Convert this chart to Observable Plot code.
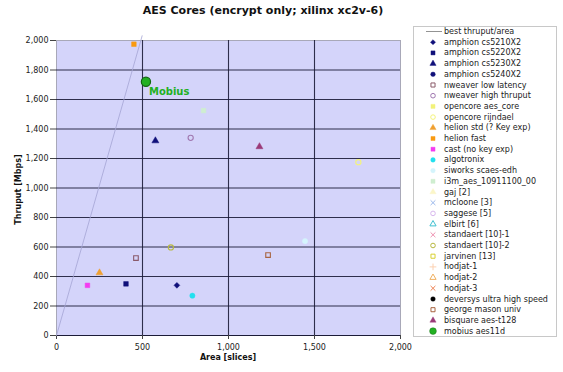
<!DOCTYPE html>
<html><head><meta charset="utf-8">
<script src="https://cdn.jsdelivr.net/npm/d3@7"></script>
<script src="https://cdn.jsdelivr.net/npm/@observablehq/plot@0.6"></script>
<style>
body{margin:0;background:#fff;font-family:"DejaVu Sans",Verdana,sans-serif;}
#wrap{position:relative;width:563px;height:372px;overflow:hidden;}
#chart{position:absolute;left:0;top:0;}
.lbl{position:absolute;font-weight:bold;color:#111;white-space:nowrap;}
#legend{position:absolute;left:413px;top:26px;width:144px;height:311px;border:1px solid #c8c8c8;box-sizing:border-box;background:#fff;}
</style></head>
<body><div id="wrap">
<div id="chart"></div>
<div class="lbl" id="title" style="left:0;width:526px;text-align:center;top:4px;font-size:11px;">AES Cores (encrypt only; xilinx xc2v-6)</div>
<div class="lbl" style="left:56px;width:344px;text-align:center;top:353px;font-size:8px;">Area [slices]</div>
<div class="lbl" style="left:-32px;width:100px;text-align:center;top:185px;font-size:8px;transform:rotate(-90deg);">Thruput [Mbps]</div>
<svg id="legend"></svg>
</div>
<script>
// ---- data ----
const lineName = "best thruput/area";
const lineAreas = [0, 498];
const lineThruputs = [0, 2032];

const names = ["amphion cs5210X2","amphion cs5220X2","amphion cs5230X2","amphion cs5240X2",
  "nweaver low latency","nweaver high thruput","opencore aes_core","opencore rijndael",
  "helion std (? Key exp)","helion fast","cast (no key exp)","algotronix","siworks scaes-edh",
  "i3m_aes_10911100_00","gaj [2]","mcloone [3]","saggese [5]","elbirt [6]","standaert [10]-1",
  "standaert [10]-2","jarvinen [13]","hodjat-1","hodjat-2","hodjat-3","deversys ultra high speed",
  "george mason univ","bisquare aes-t128","mobius aes11d"];
const areas =     [700, 404, 575, null, 462, 780, null, 1755, 250, 450, 180, 790, 1445, 855, null, null, null, null, null, 665, null, null, null, null, null, 1230, 1180, 520];
const thruputs =  [340, 350, 1320, null, 525, 1340, null, 1175, 425, 1975, 340, 270, 640, 1525, null, null, null, null, null, 597, null, null, null, null, null, 545, 1280, 1720];
const colors = ["#10107a","#10107a","#10107a","#10107a","#8a5a6a","#a078b0","#f2f27a","#f4f47a",
  "#f0a030","#f99a10","#f43cf0","#22e0ee","#d4f4fc","#cfeed0","#fbf6c8","#9ab8ec","#d8b8ee","#40c0d0",
  "#ee90b0","#b8b840","#d8d030","#fcd0b0","#f0b060","#ee8050","#000000","#a86440","#9a3a78","#22b022"];
const symbols = ["diamond2","square","triangle","circle","square","circle","square","circle",
  "triangle","square","square","circle","circle","square","triangle","times","circle","triangle",
  "times","circle","square","plus","triangle","times","circle","square","triangle","circle"];
const filled = [1,1,1,1,0,0,1,0,1,1,1,1,1,1,1,0,0,0,0,0,0,0,0,0,1,0,1,1];
const highlightName = "Mobius";

const xTicks = [0, 500, 1000, 1500, 2000];
const yTicks = [0, 200, 400, 600, 800, 1000, 1200, 1400, 1600, 1800, 2000];

// ---- chart ----
const pts = names.map((n, i) => ({name: n, area: areas[i], thru: thruputs[i], color: colors[i], sym: symbols[i], filled: filled[i]}))
  .filter(d => d.area != null);
const lineData = lineAreas.map((a, i) => ({area: a, thru: lineThruputs[i]}));
const fmt = d3.format(",");

const dotMarks = pts.map(d => {
  const big = d.name.startsWith("mobius");
  return Plot.dot([d], {x: "area", y: "thru", symbol: d.sym,
    r: big ? 4.6 : 2.6,
    fill: d.filled ? d.color : "none",
    stroke: big ? "#116611" : d.color,
    strokeWidth: big ? 1.2 : (d.filled ? 0.5 : 1.1)});
});
const mob = pts.filter(d => d.name.startsWith("mobius"));

const plot = Plot.plot({
  width: 563, height: 372,
  marginLeft: 56, marginRight: 163, marginTop: 40, marginBottom: 37,
  style: {fontFamily: "DejaVu Sans, Verdana, sans-serif", fontSize: "8px", color: "#222", background: "transparent"},
  x: {domain: [0, 2000], label: null},
  y: {domain: [0, 2000], label: null},
  marks: [
    Plot.frame({fill: "#d4d4fa", stroke: "#a8a8b8"}),
    Plot.gridX(xTicks.slice(1, -1), {stroke: "#1c1c38", strokeOpacity: 0.9, strokeWidth: 1.1}),
    Plot.gridY(yTicks.slice(1, -1), {stroke: "#1c1c38", strokeOpacity: 0.9, strokeWidth: 1.1}),
    Plot.ruleY([0], {stroke: "#1c1c38", strokeWidth: 1.1}),
    Plot.axisX({ticks: xTicks, tickFormat: fmt, tickSize: 4, tickPadding: 5, stroke: "#444"}),
    Plot.axisY({ticks: yTicks, tickFormat: fmt, tickSize: 6, tickPadding: 2, stroke: "#444"}),
    Plot.line(lineData, {x: "area", y: "thru", stroke: "#a4a4d4", strokeWidth: 0.8}),
    ...dotMarks,
    Plot.text(mob, {x: "area", y: "thru", text: () => highlightName, dx: 3, dy: 10, textAnchor: "start",
      fill: "#22b022", fontWeight: "bold", fontSize: 10})
  ]
});
document.getElementById("chart").appendChild(plot);

// ---- legend ----
const lg = d3.select("#legend");
const rowY = i => 4.5 + i * 10.7;
const symMap = {circle: d3.symbolCircle, square: d3.symbolSquare, triangle: d3.symbolTriangle,
  diamond2: d3.symbolDiamond2, times: d3.symbolTimes, plus: d3.symbolPlus};
lg.append("line").attr("x1", 12).attr("x2", 28).attr("y1", rowY(0)).attr("y2", rowY(0))
  .attr("stroke", "#777").attr("stroke-width", 0.8);
lg.append("text").attr("x", 30).attr("y", rowY(0)).attr("dy", "0.32em")
  .attr("font-size", 8).attr("fill", "#222").text(lineName);
names.forEach((n, i) => {
  const y = rowY(i + 1);
  const r = n.startsWith("mobius") ? 3.4 : 2.3;
  const open = !filled[i];
  lg.append("path").attr("transform", `translate(19,${y})`)
    .attr("d", d3.symbol(symMap[symbols[i]], r * r * Math.PI)())
    .attr("fill", open ? "none" : colors[i])
    .attr("stroke", n.startsWith("mobius") ? "#116611" : colors[i])
    .attr("stroke-width", open ? 1 : 0.4);
  lg.append("text").attr("x", 30).attr("y", y).attr("dy", "0.32em")
    .attr("font-size", 8).attr("fill", "#222").text(n);
});
</script>
</body></html>
